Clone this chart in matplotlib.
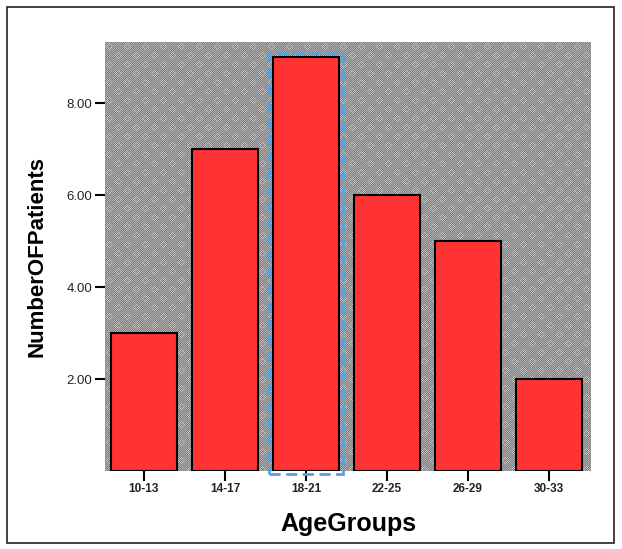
import matplotlib
matplotlib.use("Agg")
import matplotlib.pyplot as plt
import numpy as np
from matplotlib.patches import Rectangle

categories = ["10-13", "14-17", "18-21", "22-25", "26-29", "30-33"]
patients = [3, 7, 9, 6, 5, 2]
yticks = [2, 4, 6, 8]
ytick_labels = ["2.00", "4.00", "6.00", "8.00"]
highlight = "18-21"

plt.rcParams['font.family'] = ['Liberation Sans', 'DejaVu Sans']

fig = plt.figure(figsize=(6.22, 5.49), dpi=100)
fig.patch.set_facecolor('white')
fig.add_artist(Rectangle((7/622, 6/549), 607/622, 536/549, transform=fig.transFigure,
                         fill=False, edgecolor='#222222', linewidth=1.2))

ax = fig.add_axes([105/622, 1-471/549, 486/622, 429/549])

# background texture (style only)
H, W = 429, 486
ii, jj = np.indices((H, W))
tex = np.where((ii + jj) % 2 == 0, 0.50, 0.68)
a = ii % 9
b = jj % 9
ring = (np.abs(a - 4) + np.abs(b - 4) == 3)
tex = np.where(ring & ((ii + jj) % 2 == 1), 0.82, tex)
ax.imshow(tex, cmap='gray', vmin=0, vmax=1, extent=(0, 1, 0, 1), transform=ax.transAxes,
          aspect='auto', interpolation='nearest', zorder=0)

x = list(range(len(categories)))
width = 0.81
ax.bar(x, patients, width=width, color='#ff3333', edgecolor='black', linewidth=1.5, zorder=2)

hi = categories.index(highlight)
pad = 0.05
ax.add_patch(Rectangle((hi - width/2 - pad, -0.07), width + 2*pad, patients[hi] + 0.15,
                       fill=False, edgecolor='#5aa0dc', linewidth=2.0, linestyle=(0, (4, 2)),
                       zorder=3, clip_on=False))

ax.set_xlim(-0.48, 5.52)
ax.set_ylim(0, 9.33)
ax.set_xticks(x)
ax.set_xticklabels(categories, fontsize=8.5, fontweight='bold', color='#222222')
ax.set_yticks(yticks)
ax.set_yticklabels(ytick_labels, fontsize=9.5, color='#222222')
ax.tick_params(axis='both', direction='out', length=7, width=1.5, color='black', pad=2)
for s in ax.spines.values():
    s.set_visible(False)

ax.set_ylabel("NumberOFPatients", fontsize=16, fontweight='bold', labelpad=14)
ax.set_xlabel("AgeGroups", fontsize=18, fontweight='bold', labelpad=12)

fig.savefig("out.png", dpi=100)
